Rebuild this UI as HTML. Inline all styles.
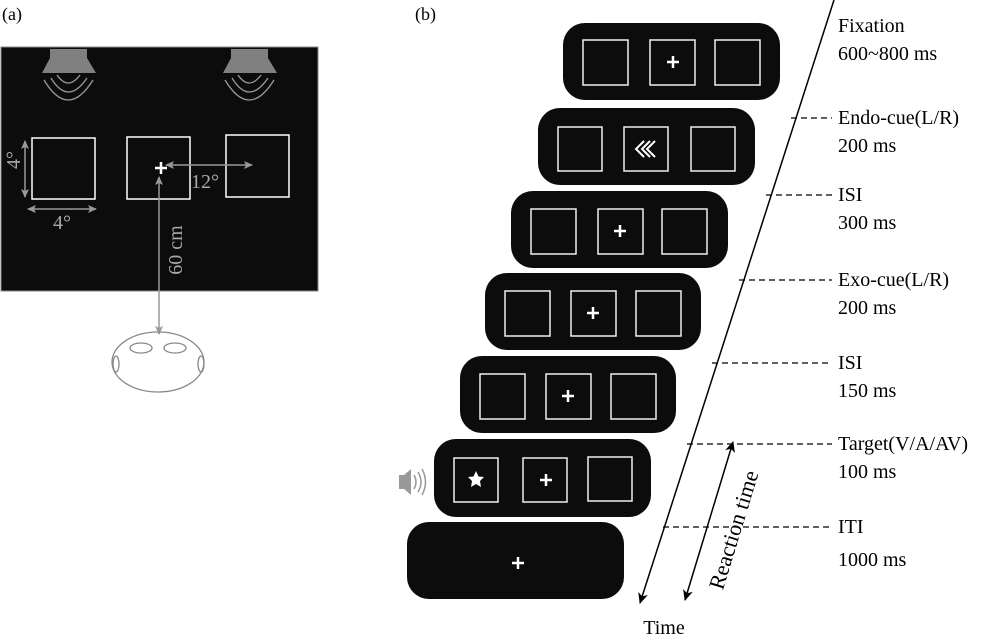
<!DOCTYPE html>
<html><head><meta charset="utf-8"><style>
body{margin:0;background:#fff}
svg{display:block;font-family:"Liberation Serif",serif}
</style></head><body>
<svg width="1000" height="635" viewBox="0 0 1000 635" xmlns="http://www.w3.org/2000/svg">
<defs>
<marker id="ga" markerWidth="10" markerHeight="10" refX="8" refY="5" orient="auto-start-reverse" markerUnits="userSpaceOnUse"><path d="M0,1 L9,5 L0,9 L2,5z" fill="#999"/></marker>
<marker id="ka" markerWidth="12" markerHeight="12" refX="10" refY="6" orient="auto-start-reverse" markerUnits="userSpaceOnUse"><path d="M0,1 L11,6 L0,11 L3,6z" fill="#000"/></marker>
</defs>
<text x="2" y="20" font-size="18">(a)</text>
<text x="415" y="20" font-size="18">(b)</text>
<!-- panel a -->
<rect x="1" y="47" width="317" height="244" fill="#0c0c0c" stroke="#888" stroke-width="1"/>
<g fill="#808080">
<path d="M50,49 H87 V58 L96,73 H42 L50,58z"/>
<path d="M231,49 H268 V58 L277,73 H223 L231,58z"/>
</g>
<g fill="none" stroke="#999" stroke-width="1.3">
<path d="M57,75 Q68,91 80,75"/><path d="M51,78 Q68,106 87,78"/><path d="M44,80 Q68,120 93,80"/>
<path d="M238,75 Q249,91 261,75"/><path d="M232,78 Q249,106 268,78"/><path d="M225,80 Q249,120 274,80"/>
</g>
<g fill="none" stroke="#fff" stroke-width="1.5">
<rect x="32" y="138" width="63" height="61"/>
<rect x="127" y="137" width="63" height="62"/>
<rect x="226" y="135" width="63" height="62"/>
</g>
<path d="M155,168 h12 M161,162 v12" stroke="#fff" stroke-width="2.5"/>
<g stroke="#999" stroke-width="1.5" fill="none">
<line x1="25" y1="141" x2="25" y2="197" marker-start="url(#ga)" marker-end="url(#ga)"/>
<line x1="28" y1="209" x2="96" y2="209" marker-start="url(#ga)" marker-end="url(#ga)"/>
<line x1="166" y1="165" x2="252" y2="165" marker-start="url(#ga)" marker-end="url(#ga)"/>
<line x1="159" y1="177" x2="159" y2="334" marker-start="url(#ga)" marker-end="url(#ga)"/>
</g>
<g fill="#aaa" font-size="20">
<text x="62" y="229" text-anchor="middle">4°</text>
<text transform="translate(20,160) rotate(-90)" text-anchor="middle">4°</text>
<text x="191" y="188">12°</text>
<text transform="translate(182,250) rotate(-90)" text-anchor="middle">60 cm</text>
</g>
<g fill="none" stroke="#888" stroke-width="1.3">
<ellipse cx="158" cy="362" rx="46" ry="30"/>
<ellipse cx="141" cy="348" rx="11" ry="5"/>
<ellipse cx="175" cy="348" rx="11" ry="5"/>
<ellipse cx="116" cy="364" rx="3" ry="8"/>
<ellipse cx="201" cy="364" rx="3" ry="8"/>
</g>
<!-- panel b frames -->
<g fill="#0c0c0c">
<rect x="563" y="23" width="217" height="77" rx="22"/>
<rect x="538" y="108" width="217" height="77" rx="22"/>
<rect x="511" y="191" width="217" height="77" rx="22"/>
<rect x="485" y="273" width="216" height="77" rx="22"/>
<rect x="460" y="356" width="216" height="77" rx="22"/>
<rect x="434" y="439" width="217" height="78" rx="22"/>
<rect x="407" y="522" width="217" height="77" rx="22"/>
</g>
<g fill="none" stroke="#eee" stroke-width="1.5">
<rect x="583" y="40" width="45" height="45"/><rect x="650" y="40" width="45" height="45"/><rect x="715" y="40" width="45" height="45"/>
<rect x="558" y="127" width="44" height="44"/><rect x="624" y="127" width="44" height="44"/><rect x="691" y="127" width="44" height="44"/>
<rect x="531" y="209" width="45" height="45"/><rect x="598" y="209" width="45" height="45"/><rect x="662" y="209" width="45" height="45"/>
<rect x="505" y="291" width="45" height="45"/><rect x="571" y="291" width="45" height="45"/><rect x="636" y="291" width="45" height="45"/>
<rect x="480" y="374" width="45" height="45"/><rect x="546" y="374" width="45" height="45"/><rect x="611" y="374" width="45" height="45"/>
<rect x="454" y="458" width="44" height="44"/><rect x="523" y="458" width="44" height="44"/><rect x="588" y="457" width="44" height="44"/>
</g>
<g stroke="#fff" stroke-width="2.5">
<path d="M667,62 h12 M673,56 v12"/>
<path d="M614,231 h12 M620,225 v12"/>
<path d="M587,313 h12 M593,307 v12"/>
<path d="M562,396 h12 M568,390 v12"/>
<path d="M540,480 h12 M546,474 v12"/>
<path d="M512,563 h12 M518,557 v12"/>
</g>
<g fill="none" stroke="#fff" stroke-width="2">
<path d="M644,141 L636,149 L644,157"/><path d="M650,141 L642,149 L650,157"/><path d="M655,141 L647,149 L655,157"/>
</g>
<polygon points="476,471 478.5,476.5 484,477 480,481 481,487 476,484 471,487 472,481 468,477 473.5,476.5" fill="#fff"/>
<!-- speaker icon -->
<g fill="#999"><rect x="399" y="475" width="5" height="14"/><path d="M404,475 L411,469 V495 L404,489z"/></g>
<g fill="none" stroke="#999" stroke-width="1.5"><path d="M414,475 Q418,482 414,489"/><path d="M418,472 Q424,482 418,492"/><path d="M422,469 Q429,482 422,495"/></g>
<!-- time line -->
<line x1="834" y1="0" x2="640" y2="603" stroke="#000" stroke-width="1.5" marker-end="url(#ka)"/>
<line x1="733" y1="442" x2="685" y2="600" stroke="#000" stroke-width="1.5" marker-start="url(#ka)" marker-end="url(#ka)"/>
<text transform="translate(734,530) rotate(-73)" text-anchor="middle" font-size="22" dy="7">Reaction time</text>
<g stroke="#000" stroke-width="1.2" stroke-dasharray="6,4">
<line x1="791" y1="118" x2="832" y2="118"/>
<line x1="766" y1="195" x2="832" y2="195"/>
<line x1="739" y1="280" x2="832" y2="280"/>
<line x1="712" y1="363" x2="832" y2="363"/>
<line x1="687" y1="444" x2="832" y2="444"/>
<line x1="663" y1="527" x2="832" y2="527"/>
</g>
<g font-size="20">
<text x="838" y="32">Fixation</text><text x="838" y="60">600~800 ms</text>
<text x="838" y="124">Endo-cue(L/R)</text><text x="838" y="152">200 ms</text>
<text x="838" y="201">ISI</text><text x="838" y="229">300 ms</text>
<text x="838" y="286">Exo-cue(L/R)</text><text x="838" y="314">200 ms</text>
<text x="838" y="369">ISI</text><text x="838" y="397">150 ms</text>
<text x="838" y="450">Target(V/A/AV)</text><text x="838" y="478">100 ms</text>
<text x="838" y="533">ITI</text><text x="838" y="566">1000 ms</text>
<text x="664" y="634" text-anchor="middle">Time</text>
</g>
</svg>
</body></html>
